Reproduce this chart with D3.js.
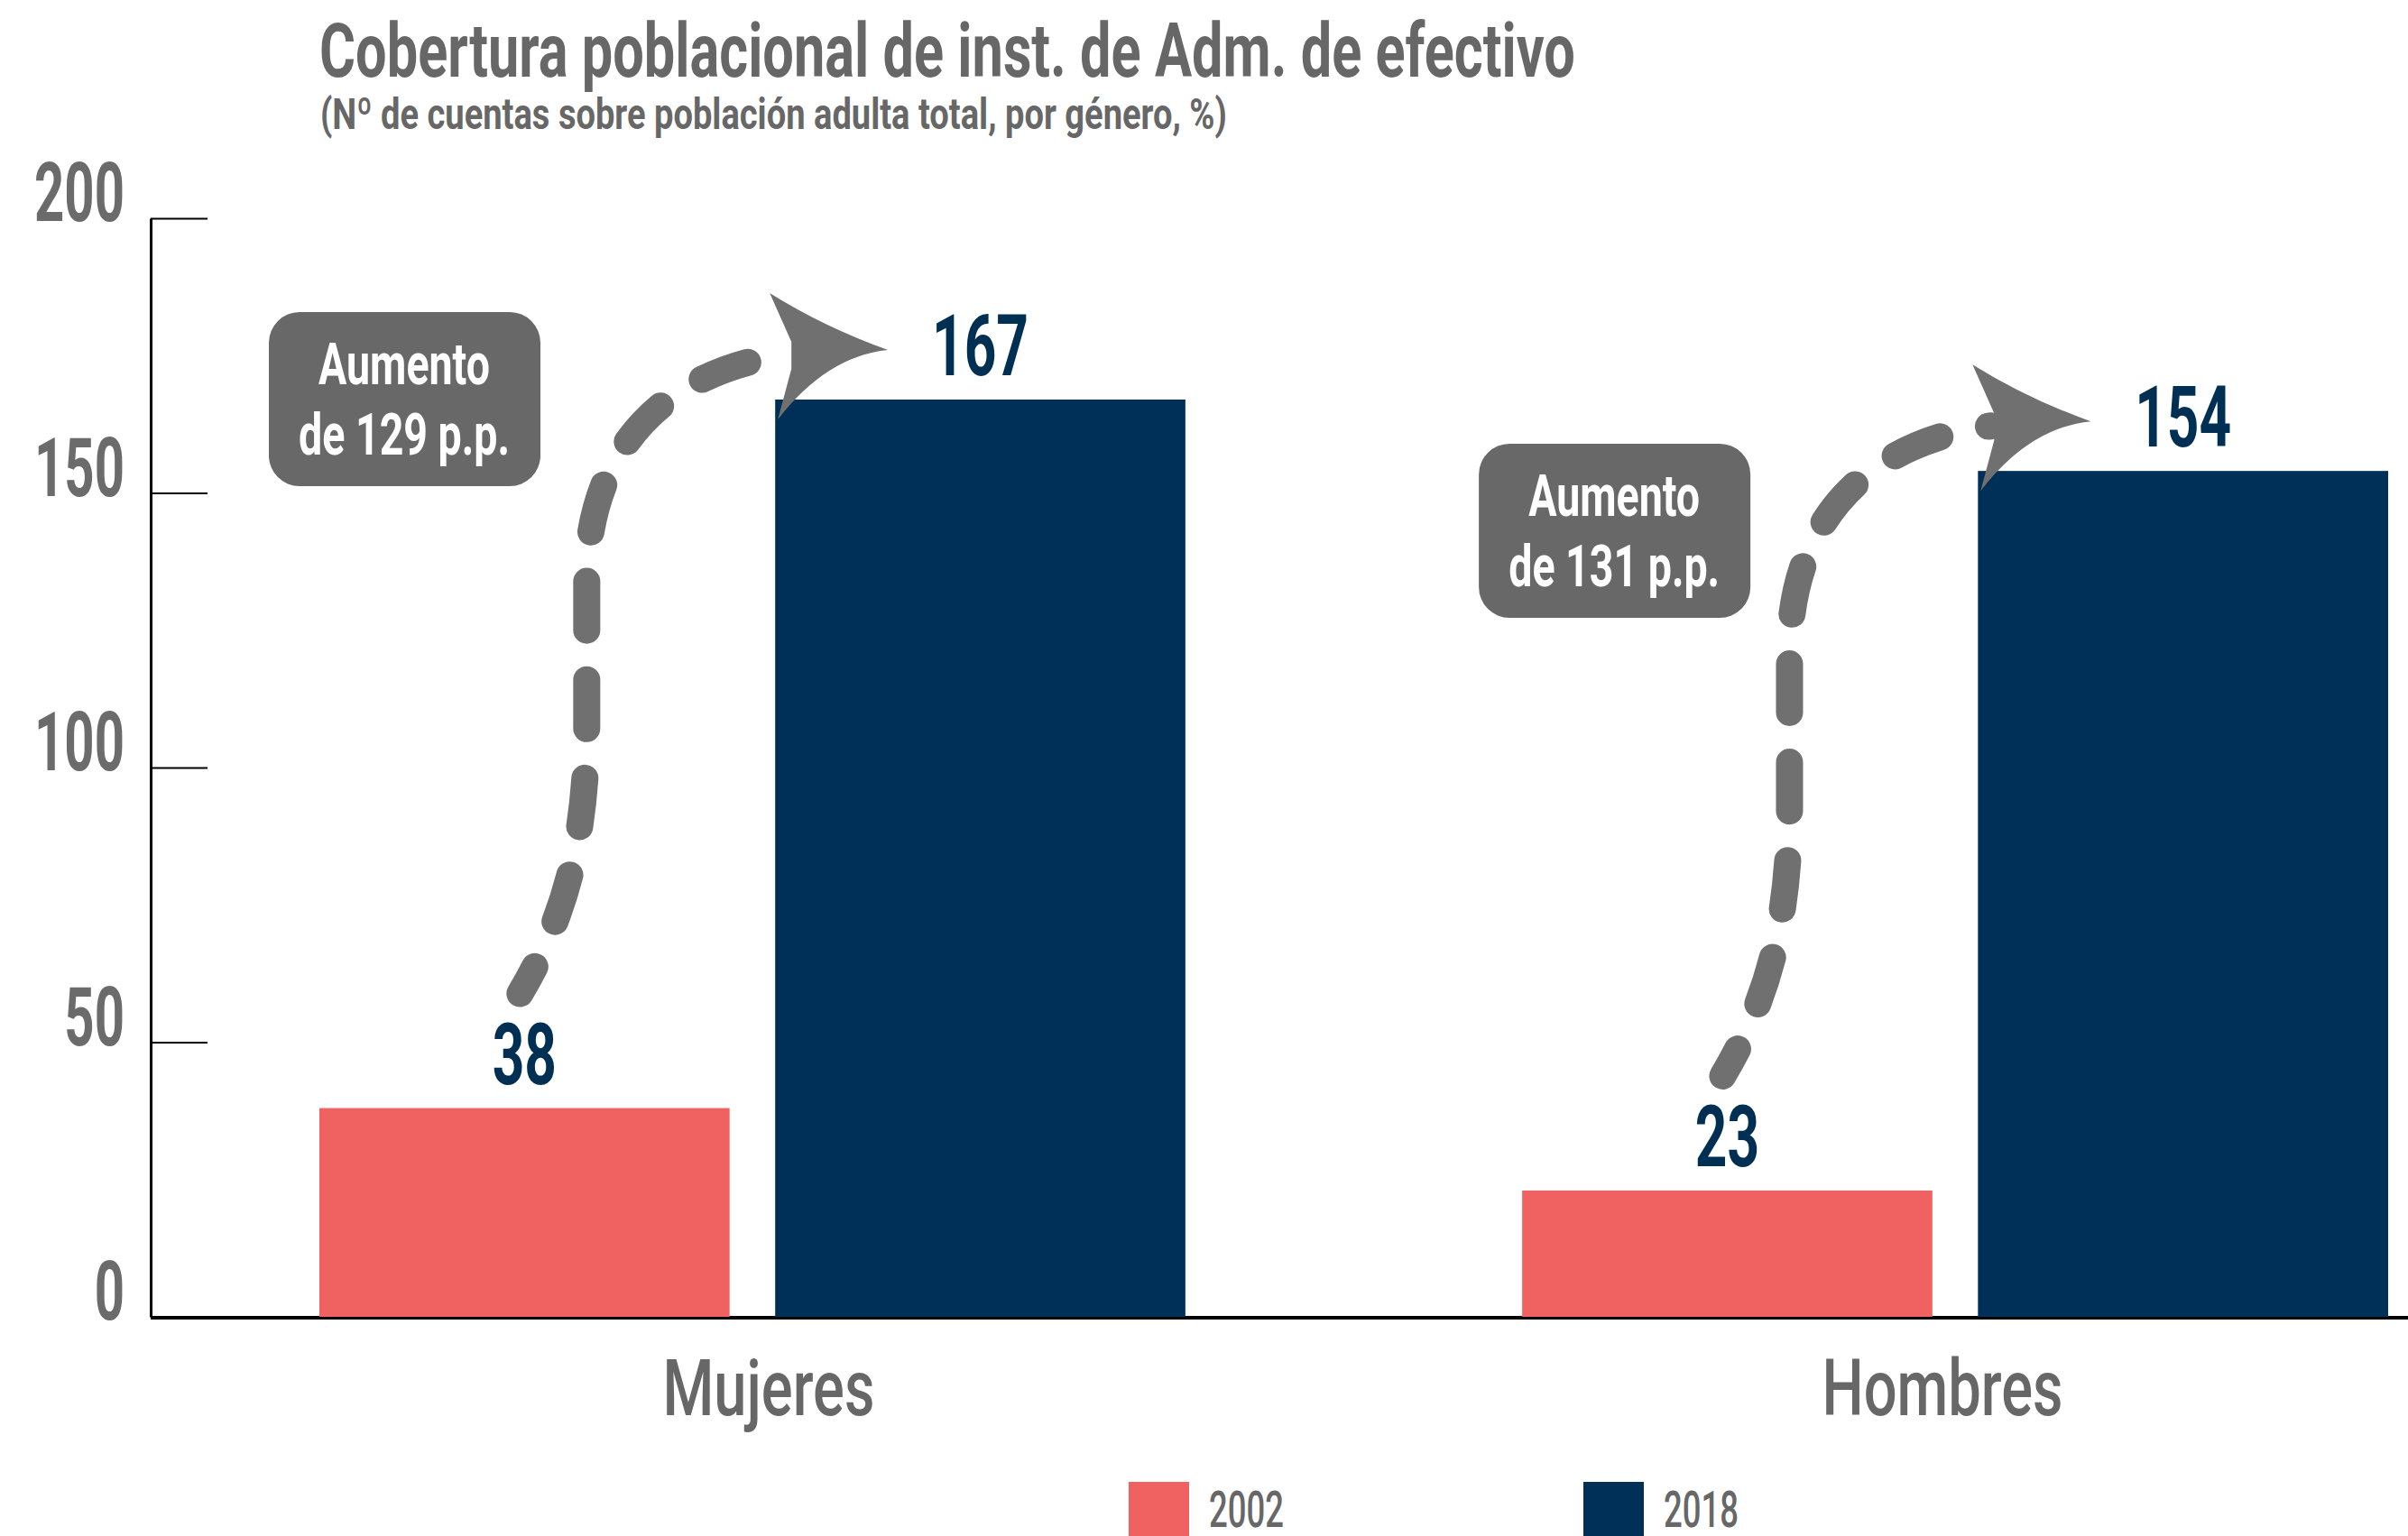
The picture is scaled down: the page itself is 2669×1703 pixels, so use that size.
<!DOCTYPE html>
<html>
<head>
<meta charset="utf-8">
<script src="https://cdn.jsdelivr.net/npm/d3@7"></script>
<style>
  html, body { margin: 0; padding: 0; background: #ffffff; }
  svg { display: block; }
</style>
</head>
<body>
<script>
// ---------------- DATA ----------------
const categories = ["Mujeres", "Hombres"];
const years = ["2002", "2018"];
const values2002 = [38, 23];
const values2018 = [167, 154];
const yTickValues = [0, 50, 100, 150, 200];
const titleText = "Cobertura poblacional de inst. de Adm. de efectivo";
const subtitleText = "(Nº de cuentas sobre población adulta total, por género, %)";
const annotationWord = "Aumento";

// ---------------- LAYOUT / STYLE ----------------
const W = 2669, H = 1703;
const FONT = "Roboto, 'DejaVu Sans Condensed', sans-serif";
const colorByYear = { "2002": "#F06262", "2018": "#003057" };
const grayText = "#676767";
const arrowGray = "#707070";
const boxGray = "#686868";
const boxLayout = [ { dx: -56, y: 346 }, { dx: -48, y: 492 } ];

const rows = categories.map((c, i) => ({ cat: c, "2002": values2002[i], "2018": values2018[i] }));

const svg = d3.select("body").append("svg").attr("width", W).attr("height", H);

const x0 = d3.scaleBand().domain(categories).range([354, 2647]).paddingInner(0.28).paddingOuter(0);
const x1 = d3.scaleBand().domain(years).range([0, x0.bandwidth()]).paddingInner(0.1);
const y = d3.scaleLinear().domain([0, 200]).range([1460, 242]);

function condense(sel, refIdx, target) {
  const nodes = sel.nodes();
  const k = target / nodes[refIdx].getComputedTextLength();
  nodes.forEach(n => n.setAttribute("transform", n.getAttribute("transform") + ` scale(${k.toFixed(4)},1)`));
}

// ---------------- TITLE ----------------
const tTitle = svg.append("text").attr("class", "title").text(titleText)
  .attr("transform", "translate(354,85)")
  .attr("font-family", FONT).attr("font-weight", 700).attr("font-size", 84).attr("fill", grayText);
condense(tTitle, 0, 1392);
const tSub = svg.append("text").attr("class", "subtitle").text(subtitleText)
  .attr("transform", "translate(355,143)")
  .attr("font-family", FONT).attr("font-weight", 700).attr("font-size", 49).attr("fill", grayText);
condense(tSub, 0, 1005);

// ---------------- AXES ----------------
svg.append("line")
  .attr("x1", 167).attr("x2", W).attr("y1", y(0) + 1).attr("y2", y(0) + 1)
  .attr("stroke", "#000").attr("stroke-width", 4);

const yAxis = d3.axisLeft(y).tickValues(yTickValues).tickSize(-63).tickSizeOuter(0).tickFormat("");
const gy = svg.append("g").attr("transform", "translate(167,0)").call(yAxis);
gy.select(".domain").attr("stroke", "#000").attr("stroke-width", 3);
gy.selectAll(".tick line").attr("stroke", "#000").attr("stroke-width", 2);
gy.selectAll(".tick text").remove();

const tickLabels = svg.append("g").selectAll("text").data(yTickValues).join("text")
  .text(d => d)
  .attr("transform", d => `translate(138,${y(d) + 3})`)
  .attr("text-anchor", "end")
  .attr("font-family", FONT).attr("font-weight", 700).attr("font-size", 90).attr("fill", "#6b6b6b");
condense(tickLabels, 4, 100);

// ---------------- BARS ----------------
const groups = svg.append("g").selectAll("g").data(rows).join("g")
  .attr("transform", d => `translate(${x0(d.cat)},0)`);

groups.selectAll("rect").data(d => years.map(yr => ({ yr, v: d[yr] }))).join("rect")
  .attr("x", d => x1(d.yr))
  .attr("y", d => y(d.v))
  .attr("width", x1.bandwidth())
  .attr("height", d => y(0) - y(d.v))
  .attr("fill", d => colorByYear[d.yr]);

const valueLabels = groups.selectAll("text.val").data(d => years.map(yr => ({ yr, v: d[yr] }))).join("text")
  .attr("class", "val")
  .text(d => d.v)
  .attr("transform", d => `translate(${x1(d.yr) + x1.bandwidth() / 2},${y(d.v) - 27})`)
  .attr("text-anchor", "middle")
  .attr("font-family", FONT).attr("font-weight", 700).attr("font-size", 95).attr("fill", "#002f54");
condense(valueLabels, 1, 107);

// ---------------- CATEGORY LABELS ----------------
const catLabels = svg.append("g").selectAll("text").data(categories).join("text")
  .text(d => d)
  .attr("transform", d => `translate(${x0(d) + x0.bandwidth() / 2 + (d === "Mujeres" ? 18 : -14)},1569)`)
  .attr("text-anchor", "middle")
  .attr("font-family", FONT).attr("font-weight", 500).attr("font-size", 88).attr("fill", grayText);
condense(catLabels, 0, 235);

// ---------------- ARROWS + ANNOTATIONS ----------------
function arrowPath(S, E) {
  const p = d3.path();
  const xv = S.x + 74;
  p.moveTo(S.x, S.y);
  p.bezierCurveTo(S.x + 54, S.y - 91, xv, S.y - 181, xv, S.y - 301);
  p.lineTo(xv, E.y + 254);
  p.bezierCurveTo(xv, E.y + 84, xv + 110, E.y + 14, E.x, E.y);
  return p.toString();
}
function headPath(E) {
  const p = d3.path();
  p.moveTo(E.x - 21, E.y - 68);
  p.quadraticCurveTo(E.x + 40, E.y - 30, E.x + 110, E.y - 5);
  p.quadraticCurveTo(E.x + 42, E.y + 2, E.x - 12, E.y + 72);
  p.lineTo(E.x + 3, E.y + 16);
  p.lineTo(E.x + 3, E.y - 14);
  p.closePath();
  return p.toString();
}

const ann = svg.append("g");
rows.forEach((d, i) => {
  const gx = x0(d.cat);
  const S = { x: gx + x1("2002") + x1.bandwidth() / 2 - 5, y: y(d["2002"]) - 127 };
  const E = { x: gx + x1("2018") + 15, y: y(d["2018"]) - 50 };
  ann.append("path").attr("d", arrowPath(S, E))
    .attr("fill", "none").attr("stroke", arrowGray).attr("stroke-width", 30)
    .attr("stroke-linecap", "round").attr("stroke-dasharray", "54 55").attr("stroke-dashoffset", 20);
  ann.append("path").attr("d", headPath(E)).attr("fill", arrowGray);

  const bx = gx + boxLayout[i].dx, by = boxLayout[i].y;
  ann.append("rect").attr("x", bx).attr("y", by).attr("width", 301).attr("height", 193)
    .attr("rx", 34).attr("ry", 34).attr("fill", boxGray);
  const inc = d["2018"] - d["2002"];
  const lines = [annotationWord, `de ${inc} p.p.`];
  const t = ann.append("g").selectAll("text").data(lines).join("text")
    .text(s => s)
    .attr("transform", (s, j) => `translate(${bx + 150},${by + 80 + j * 78})`)
    .attr("text-anchor", "middle")
    .attr("font-family", FONT).attr("font-weight", 700).attr("font-size", 64).attr("fill", "#ffffff");
  condense(t, 0, 190);
});

// ---------------- LEGEND ----------------
const legendX = [1251, 1755];
const leg = svg.append("g").selectAll("g").data(years).join("g")
  .attr("transform", (d, i) => `translate(${legendX[i]},1643)`);
leg.append("rect").attr("width", 67).attr("height", 70).attr("fill", d => colorByYear[d]);
const legText = leg.append("text").text(d => d)
  .attr("transform", "translate(89,50)")
  .attr("font-family", FONT).attr("font-weight", 500).attr("font-size", 55).attr("fill", grayText);
condense(legText, 0, 83);
</script>
</body>
</html>
